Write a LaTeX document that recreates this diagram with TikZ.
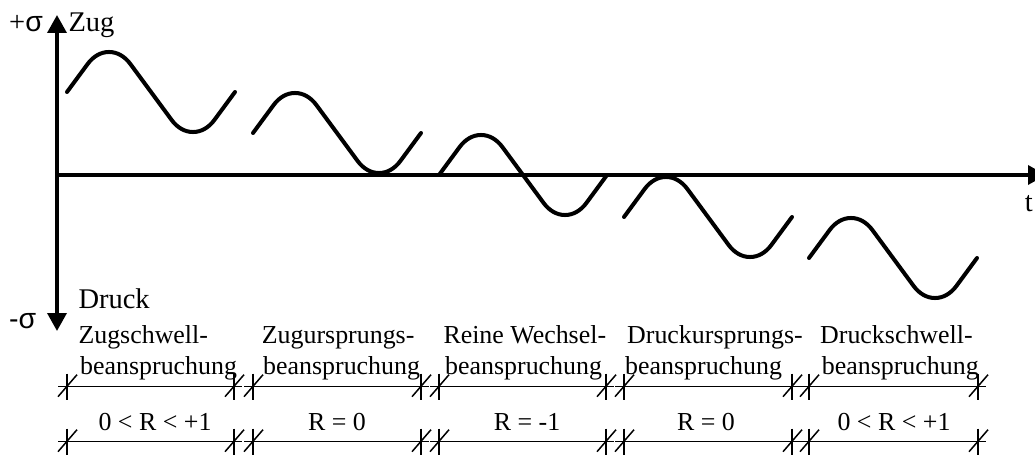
\documentclass[tikz,border=0pt]{standalone}
\usepackage{fontspec}
\setmainfont{Liberation Serif}
\newfontfamily\sigfont{Liberation Sans}
\usetikzlibrary{arrows.meta}
\begin{document}
\begin{tikzpicture}[x=1pt,y=-1pt,
  txt/.style={inner sep=0pt,font=\fontsize{25.9}{30}\selectfont},
  big/.style={inner sep=0pt,font=\fontsize{28.5}{32}\selectfont},
  lbl/.style={txt,anchor=base west},
  blbl/.style={big,anchor=base west},
  clbl/.style={txt,anchor=base},
  axis/.style={line width=3.5pt,-{Triangle[width=19pt,length=18pt]}},
  wave/.style={line width=4pt,line cap=round,rounded corners=36pt},
  dim/.style={line width=1.5pt}]
\useasboundingbox (0,0) rectangle (1035,457);
% axes
\coordinate (O) at (57,175);
\coordinate (up) at (57,15);
\coordinate (down) at (57,331);
\coordinate (right) at (1046,175);
\draw[axis] (O) -- (up);
\draw[axis] (O) -- (down);
\draw[axis] ([xshift=-1.5pt]O) -- (right);
% axis labels
\node[blbl] (ps) at (9,32) {+{\sigfont σ}};
\node[blbl] (zug) at (68.3,32) {Zug};
\node[blbl] (druck) at (78.3,308.3) {Druck};
\node[blbl] (ms) at (9,328) {{\sigfont -σ}};
\node[big,anchor=base east] (t) at (1033,211.7) {t};
% waves
\foreach \sx/\sy in {67/92,253/133,439/175,624/217,809/258}
  \draw[wave] (\sx,\sy) -- ++(42,-57) -- ++(84,114) -- ++(42,-57);
% dimension lines
\foreach \y in {386.7,441.7}{
  \foreach \a/\b in {67/234,253/421,439/606,624/792,809/978}{
    \draw[dim] ({\a-9},\y) -- ({\b+8},\y);
    \foreach \x in {\a,\b}{
      \draw[dim] (\x,{\y-13}) -- (\x,{\y+13});
      \draw[dim] ({\x-9},{\y+10}) -- ({\x+10},{\y-12});
    }
  }
}
% labels
\node[lbl] (l1a) at (78.3,343.3) {Zugschwell-};
\node[lbl] (l1b) at (80,374) {beanspruchung};
\node[lbl] (l2a) at (261.7,343.3) {Zugursprungs-};
\node[lbl] (l2b) at (263,374) {beanspruchung};
\node[lbl] (l3a) at (443.3,343.3) {Reine Wechsel-};
\node[lbl] (l3b) at (445,374) {beanspruchung};
\node[lbl] (l4a) at (627,343.3) {Druckursprungs-};
\node[lbl] (l4b) at (625,374) {beanspruchung};
\node[lbl] (l5a) at (820,343.3) {Druckschwell-};
\node[lbl] (l5b) at (821.7,374) {beanspruchung};
\node[clbl] (r1) at (155,430) {0 < R < +1};
\node[clbl] (r2) at (337,430) {R = 0};
\node[clbl] (r3) at (527,430) {R = -1};
\node[clbl] (r4) at (706,430) {R = 0};
\node[clbl] (r5) at (894,430) {0 < R < +1};
\end{tikzpicture}
\end{document}
